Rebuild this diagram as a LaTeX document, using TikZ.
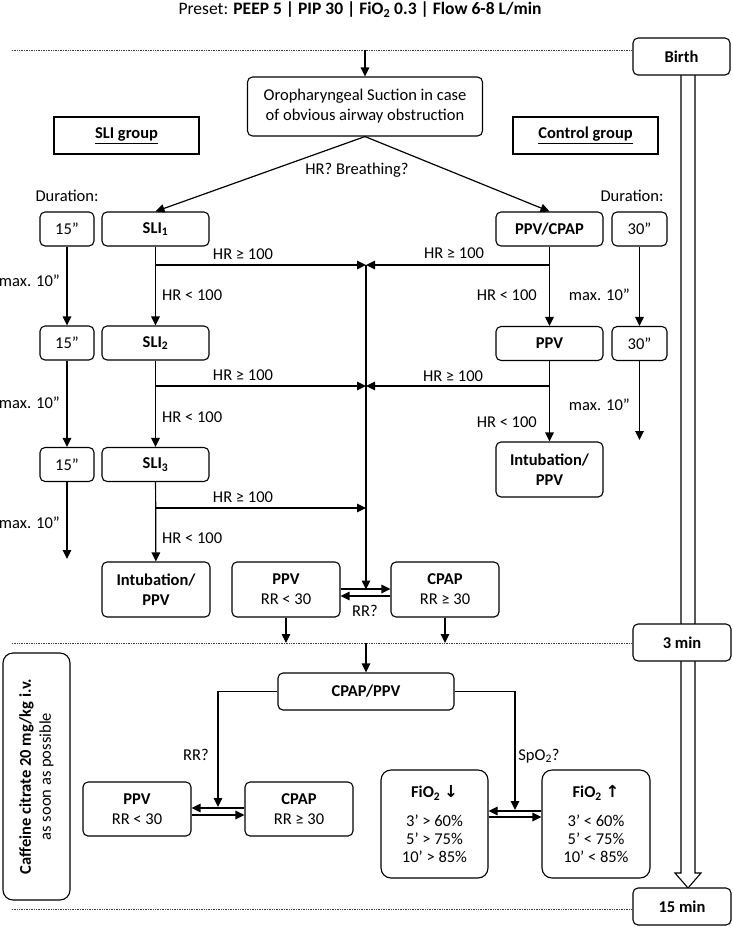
\documentclass[tikz,border=0pt]{standalone}
\usepackage{fontspec}
\setmainfont{Carlito}
\newfontfamily\arrowfont{DejaVu Sans}
\usetikzlibrary{arrows.meta, positioning, backgrounds}

\tikzset{
  base/.style={font=\fontsize{16.5}{20}\selectfont},
  box/.style={base, draw, fill=white, rounded corners=5pt, line width=1.1pt, align=center, inner sep=0pt},
  boldbox/.style={box, font=\fontsize{16.5}{20}\selectfont\bfseries},
  groupbox/.style={draw, line width=2.4pt, minimum width=145, minimum height=37, font=\fontsize{16.5}{20}\selectfont\bfseries},
  lbl/.style={base, inner sep=1pt},
  arr/.style={-{Triangle[length=9pt,width=8.5pt]}, line width=1.2pt},
  timeline/.style={densely dotted, line width=0.7pt, black!75},
}

\begin{document}
\begin{tikzpicture}[x=1pt, y=-1pt]
  \useasboundingbox (0,0) rectangle (733,927);

  \node[lbl, font=\fontsize{17.5}{20}\selectfont] (preset) at (360,10) {Preset: \textbf{PEEP 5 | PIP 30 | FiO\textsubscript{2} 0.3 | Flow 6-8 L/min}};

  % time line
  \node[boldbox, minimum width=97, minimum height=37] (birth) at (681.5,56.5) {Birth};
  \node[boldbox, minimum width=98, minimum height=37] (min3) at (682,642.5) {3 min};
  \node[boldbox, minimum width=98, minimum height=37] (min15) at (682,906.5) {15 min};
  \begin{scope}[on background layer]
    \draw[line width=1.1pt, fill=white] (681,75) -- (681,873) -- (675,873) -- (688,888) -- (701,873) -- (695,873) -- (695,75);
  \end{scope}
  \coordinate (t0) at (12,50);
  \coordinate (t3) at (12,643);
  \coordinate (t15) at (12,909);
  \draw[timeline] (t0) -- (t0 -| birth.west);
  \draw[timeline] (t3) -- (t3 -| min3.west);
  \draw[timeline] (t15) -- (t15 -| min15.west);

  % first steps
  \node[box, minimum width=235, minimum height=59] (suction) at (365,106.5) {Oropharyngeal Suction in case\\of obvious airway obstruction};
  \draw[arr] (t0 -| suction.north) -- (suction.north);
  \node[groupbox] (sligroup) at (126.5,135.5) {\underline{SLI group}};
  \node[groupbox] (ctrlgroup) at (585.5,135.5) {\underline{Control group}};
  \node[lbl] (hrbreath) at (357,170) {HR? Breathing?};
  \node[lbl] (durl) at (67,196) {Duration:};
  \node[lbl] (durr) at (632,196) {Duration:};

  % SLI group
  \node[boldbox, minimum width=107, minimum height=34] (sli1) at (155.5,229) {SLI\textsubscript{1}};
  \node[boldbox, minimum width=107, minimum height=34] (sli2) at (155.5,343) {SLI\textsubscript{2}};
  \node[boldbox, minimum width=107, minimum height=34] (sli3) at (155.5,464.5) {SLI\textsubscript{3}};
  \node[boldbox, minimum width=108, minimum height=55] (intubl) at (156,589.5) {Intubation/\\PPV};
  \node[box, minimum width=54, minimum height=34] (dura) at (67,229) {15”};
  \node[box, minimum width=54, minimum height=34] (durb) at (67,343) {15”};
  \node[box, minimum width=54, minimum height=34] (durc) at (67,464.5) {15”};
  \coordinate (durend) at (67,559);

  \draw[arr] (suction.south) -- (sli1.north);
  \draw[arr] (sli1) -- (sli2);
  \draw[arr] (sli2) -- (sli3);
  \draw[arr] (sli3) -- (intubl);
  \draw[arr] (dura) -- (durb);
  \draw[arr] (durb) -- (durc);
  \draw[arr] (durc.south) -- (durend);

  \node[lbl] (hi1) at (243,254) {HR ≥ 100};
  \node[lbl] (hi2) at (243,375) {HR ≥ 100};
  \node[lbl] (hi3) at (243,497) {HR ≥ 100};
  \node[lbl, anchor=west] (lo1) at (161,295) {HR < 100};
  \node[lbl, anchor=west] (lo2) at (161,417) {HR < 100};
  \node[lbl, anchor=west] (lo3) at (161,538) {HR < 100};
  \node[lbl, anchor=east] (maxa) at (61,281) {max. 10”};
  \node[lbl, anchor=east] (maxb) at (61,403) {max. 10”};
  \node[lbl, anchor=east] (maxc) at (61,523) {max. 10”};

  % control group
  \node[boldbox, minimum width=107, minimum height=34] (ppvcpap) at (549.5,229) {PPV/CPAP};
  \node[boldbox, minimum width=107, minimum height=34] (ppvc) at (549.5,343.5) {PPV};
  \node[boldbox, minimum width=107, minimum height=55] (intubr) at (549.5,469.5) {Intubation/\\PPV};
  \node[box, minimum width=55, minimum height=34] (dur30a) at (639.5,229) {30”};
  \node[box, minimum width=55, minimum height=34] (dur30b) at (639.5,343.5) {30”};
  \coordinate (dur30end) at (639.5,440);

  \draw[arr] (suction.south) -- (ppvcpap.north);
  \draw[arr] (ppvcpap) -- (ppvc);
  \draw[arr] (ppvc) -- (intubr);
  \draw[arr] (dur30a) -- (dur30b);
  \draw[arr] (dur30b.south) -- (dur30end);

  \node[lbl] (chi1) at (454,253) {HR ≥ 100};
  \node[lbl] (chi2) at (453,376) {HR ≥ 100};
  \node[lbl, anchor=east] (clo1) at (538,295) {HR < 100};
  \node[lbl, anchor=east] (clo2) at (538,422) {HR < 100};
  \node[lbl, anchor=east] (cmax1) at (631,295) {max. 10”};
  \node[lbl, anchor=east] (cmax2) at (631,405) {max. 10”};

  % HR >= 100 collector
  \coordinate (hub1) at (366,265);
  \coordinate (hub2) at (366,386);
  \coordinate (hub3) at (366,508);
  \draw[arr] (sli1.south |- hub1) -- (hub1);
  \draw[arr] (sli2.south |- hub2) -- (hub2);
  \draw[arr] (sli3.south |- hub3) -- (hub3);
  \draw[arr] (ppvcpap.south |- hub1) -- (hub1);
  \draw[arr] (ppvc.south |- hub2) -- (hub2);

  \node[box, minimum width=108, minimum height=55] (ppva) at (286,589.5) {\textbf{PPV}\\RR < 30};
  \node[box, minimum width=108, minimum height=55] (cpapa) at (445,589.5) {\textbf{CPAP}\\RR ≥ 30};
  \draw[arr] (hub1) -- (hub1 |- ppva.east);
  \draw[arr] ([yshift=0.5pt]ppva.east) -- ([yshift=0.5pt]cpapa.west);
  \draw[arr] ([yshift=-6.5pt]cpapa.west) -- ([yshift=-6.5pt]ppva.east);
  \node[lbl] (rra) at (365,611) {RR?};
  \draw[arr] (ppva.south) -- (ppva.south |- t3);
  \draw[arr] (cpapa.south) -- (cpapa.south |- t3);

  % after 3 min
  \node[boldbox, minimum width=176, minimum height=37] (cpapppv) at (366,691.5) {CPAP/PPV};
  \draw[arr] (t3 -| cpapppv.north) -- (cpapppv.north);

  \node[box, minimum width=108, minimum height=54] (ppvb) at (137,809) {\textbf{PPV}\\RR < 30};
  \node[box, minimum width=108, minimum height=54] (cpapb) at (299,809) {\textbf{CPAP}\\RR ≥ 30};
  \coordinate (rrin) at (218,807);
  \draw[arr] (cpapppv.west) -| (rrin);
  \node[lbl] (rrb) at (196,755) {RR?};
  \draw[arr] ([yshift=1pt]cpapb.west) -- ([yshift=1pt]ppvb.east);
  \draw[arr] ([yshift=-6pt]ppvb.east) -- ([yshift=-6pt]cpapb.west);

  \node[box, minimum width=107, minimum height=108, rounded corners=10pt] (fiodown) at (434.5,824) {\textbf{FiO\textsubscript{2} {\arrowfont ↓}}\\[9pt]3’ > 60\%\\[-2pt]5’ > 75\%\\[-2pt]10’ > 85\%};
  \node[box, minimum width=108, minimum height=108, rounded corners=10pt] (fioup) at (596,824) {\textbf{FiO\textsubscript{2} {\arrowfont ↑}}\\[9pt]3’ < 60\%\\[-2pt]5’ < 75\%\\[-2pt]10’ < 85\%};
  \coordinate (spin) at (515,810);
  \draw[arr] (cpapppv.east) -| (spin);
  \node[lbl] (spo2) at (539,756) {SpO\textsubscript{2}?};
  \draw[arr] ([yshift=13pt]fioup.west) -- ([yshift=13pt]fiodown.east);
  \draw[arr] ([yshift=7pt]fiodown.east) -- ([yshift=7pt]fioup.west);

  % caffeine
  \node[box, rotate=90, rounded corners=10pt, minimum width=247, minimum height=67] (caffeine) at (36.5,776.5) {\textbf{Caffeine citrate 20 mg/kg i.v.}\\as soon as possible};
\end{tikzpicture}
\end{document}
